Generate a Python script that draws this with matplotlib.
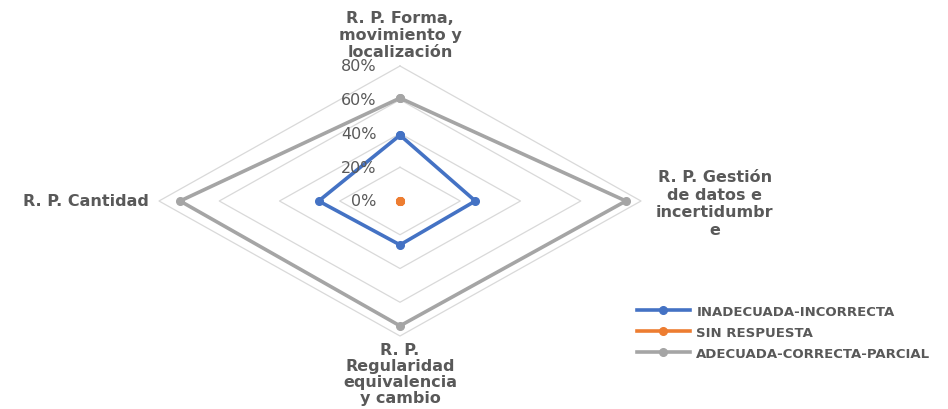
import numpy as np
import matplotlib
matplotlib.use('Agg')
import matplotlib.pyplot as plt

plt.rcParams['font.family'] = ['DejaVu Sans']

categories = ["R. P. Forma,\nmovimiento y\nlocalización",
              "R. P. Gestión\nde datos e\nincertidumbr\ne",
              "R. P.\nRegularidad\nequivalencia\ny cambio",
              "R. P. Cantidad"]
series_names = ["INADECUADA-INCORRECTA", "SIN RESPUESTA", "ADECUADA-CORRECTA-PARCIAL"]
inadecuada = [39, 25, 26, 27]
sin_respuesta = [0, 0, 0, 0]
adecuada = [61, 75, 74, 73]
ring_values = [0, 20, 40, 60, 80]
ring_labels = ["0%", "20%", "40%", "60%", "80%"]

colors = ["#4472C4", "#ED7D31", "#A5A5A5"]
text_color = "#595959"

W, H = 948, 410
fig = plt.figure(figsize=(W / 100, H / 100), dpi=100)
ax = fig.add_axes([159 / W, 73 / H, 482 / W, 270 / H], projection='polar')
ax.set_aspect('auto')
ax.set_theta_zero_location('N')
ax.set_theta_direction(-1)
ax.set_ylim(0, 80)
ax.grid(False)
ax.spines['polar'].set_visible(False)
ax.set_xticks([])
ax.set_yticks([])

n = len(categories)
theta = np.arange(n) * 2 * np.pi / n
theta_c = np.append(theta, theta[0])

# diamond grid rings
for v in ring_values[1:]:
    ax.plot(theta_c, [v] * (n + 1), color="#D9D9D9", lw=0.9, zorder=1, clip_on=False)

# ring labels
for v, lab in zip(ring_values, ring_labels):
    ax.annotate(lab, xy=(0, v), xytext=(-17, 0), textcoords='offset points',
                ha='right', va='center', fontsize=11.5, color=text_color, zorder=5)

# series
for vals, name, c in zip([inadecuada, sin_respuesta, adecuada], series_names, colors):
    ax.plot(theta_c, list(vals) + [vals[0]], color=c, lw=2.6, marker='o', ms=5.5,
            label=name, zorder=3, clip_on=False)

# category labels
rmax = 80
offsets = [((0, 5), 'center', 'bottom', 1.15),
           ((53, -1.5), 'center', 'center', 1.2),
           ((0, -4), 'center', 'top', 1.1),
           ((-7, 0), 'right', 'center', 1.0)]
for th, lab, (off, ha, va, ls) in zip(theta, categories, offsets):
    ax.annotate(lab, xy=(th, rmax), xytext=off, textcoords='offset points',
                ha=ha, va=va, fontsize=11.5, fontweight='bold', color=text_color,
                multialignment='center', linespacing=ls, annotation_clip=False)

leg = fig.legend(loc='upper left', bbox_to_anchor=(637 / W, (H - 306) / H),
                 frameon=False, borderpad=0, borderaxespad=0,
                 handlelength=4.0, handletextpad=0.5, labelspacing=0.6,
                 prop={'size': 9.5, 'weight': 'bold'})
for t in leg.get_texts():
    t.set_color(text_color)

fig.savefig('out.png', dpi=100, facecolor='white')
